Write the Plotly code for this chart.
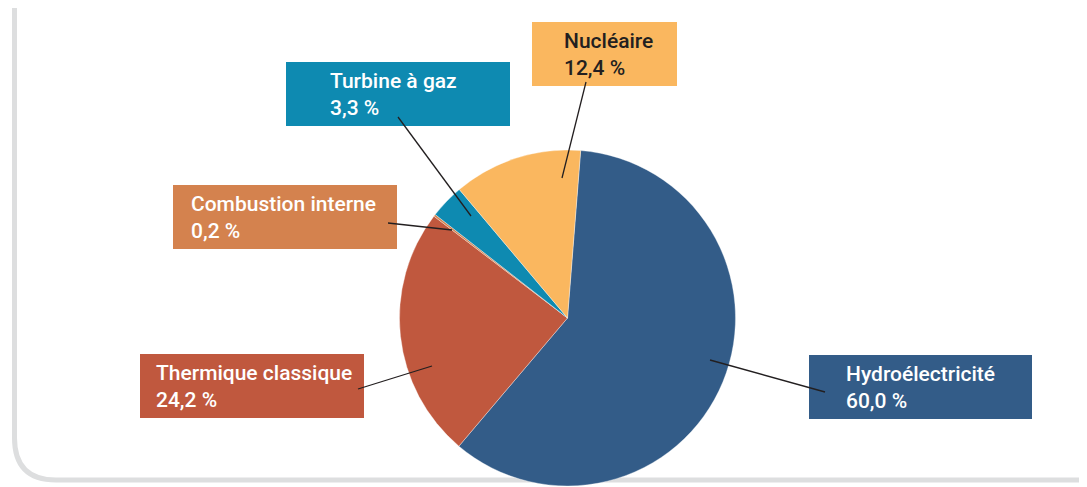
import plotly.graph_objects as go

W, H = 1087, 487
OFF = 8  # page body margin of the html output

# data
sources = ["Hydroélectricité", "Thermique classique", "Combustion interne", "Turbine à gaz", "Nucléaire"]
shares = [60.0, 24.2, 0.2, 3.3, 12.4]
share_labels = ["60,0 %", "24,2 %", "0,2 %", "3,3 %", "12,4 %"]
colors = ["#335C88", "#C0583E", "#D4824E", "#0E8AB1", "#FAB75F"]
text_colors = ["white", "white", "white", "white", "#231F20"]

# label boxes in pixels: x0, y0, x1, y1, text left, text top
boxes = [
    (809, 355, 1032, 419, 844, 360),
    (140, 354, 364, 418, 154, 359),
    (173, 185, 397, 249, 189, 190),
    (286, 62, 510, 126, 328, 67),
    (532, 22, 677, 86, 562, 27),
]
# leader lines in pixels: box end -> pie end
leaders = [
    ((825, 392), (710, 360)),
    ((358, 389), (432, 366)),
    ((388, 223), (452, 230)),
    ((398, 117), (471, 216)),
    ((586, 82), (562, 178)),
]


def px(x):
    return (x - OFF) / W


def py(y):
    return 1 - (y - OFF) / H


fig = go.Figure(go.Pie(
    labels=sources,
    values=shares,
    sort=False,
    direction="clockwise",
    rotation=4.5,
    marker=dict(colors=colors, line=dict(color="rgba(255,255,255,0.35)", width=1)),
    textinfo="none",
    hoverinfo="label+percent",
    showlegend=False,
    domain=dict(x=[px(397), px(738)], y=[py(486), py(150)]),
))

shapes = []
# rounded frame on the left and bottom
shapes.append(dict(
    type="path", xref="paper", yref="paper",
    path=f"M {px(14.5)},{py(-10)} L {px(14.5)},{py(438)} "
         f"Q {px(14.5)},{py(480)} {px(56)},{py(480)} L {px(1100)},{py(480)}",
    line=dict(color="#DDDEDF", width=5), layer="below",
))

annotations = []
for i, (x0, y0, x1, y1, tx, ty) in enumerate(boxes):
    shapes.append(dict(type="rect", xref="paper", yref="paper",
                       x0=px(x0), x1=px(x1), y0=py(y1), y1=py(y0),
                       fillcolor=colors[i], line=dict(width=0), layer="above"))
    annotations.append(dict(
        xref="paper", yref="paper", x=px(tx), y=py(ty),
        xanchor="left", yanchor="top", align="left", showarrow=False,
        text=f"{sources[i]}<br>{share_labels[i]}",
        font=dict(family="Roboto, Arial", size=21, weight=500,
                  color=text_colors[i]),
    ))

for (a, b) in leaders:
    shapes.append(dict(type="line", xref="paper", yref="paper",
                       x0=px(a[0]), y0=py(a[1]), x1=px(b[0]), y1=py(b[1]),
                       line=dict(color="#231F20", width=1.3), layer="above"))

fig.update_layout(
    width=W, height=H,
    margin=dict(l=0, r=0, t=0, b=0),
    paper_bgcolor="white",
    plot_bgcolor="white",
    shapes=shapes,
    annotations=annotations,
)

fig.write_html("out.html")
